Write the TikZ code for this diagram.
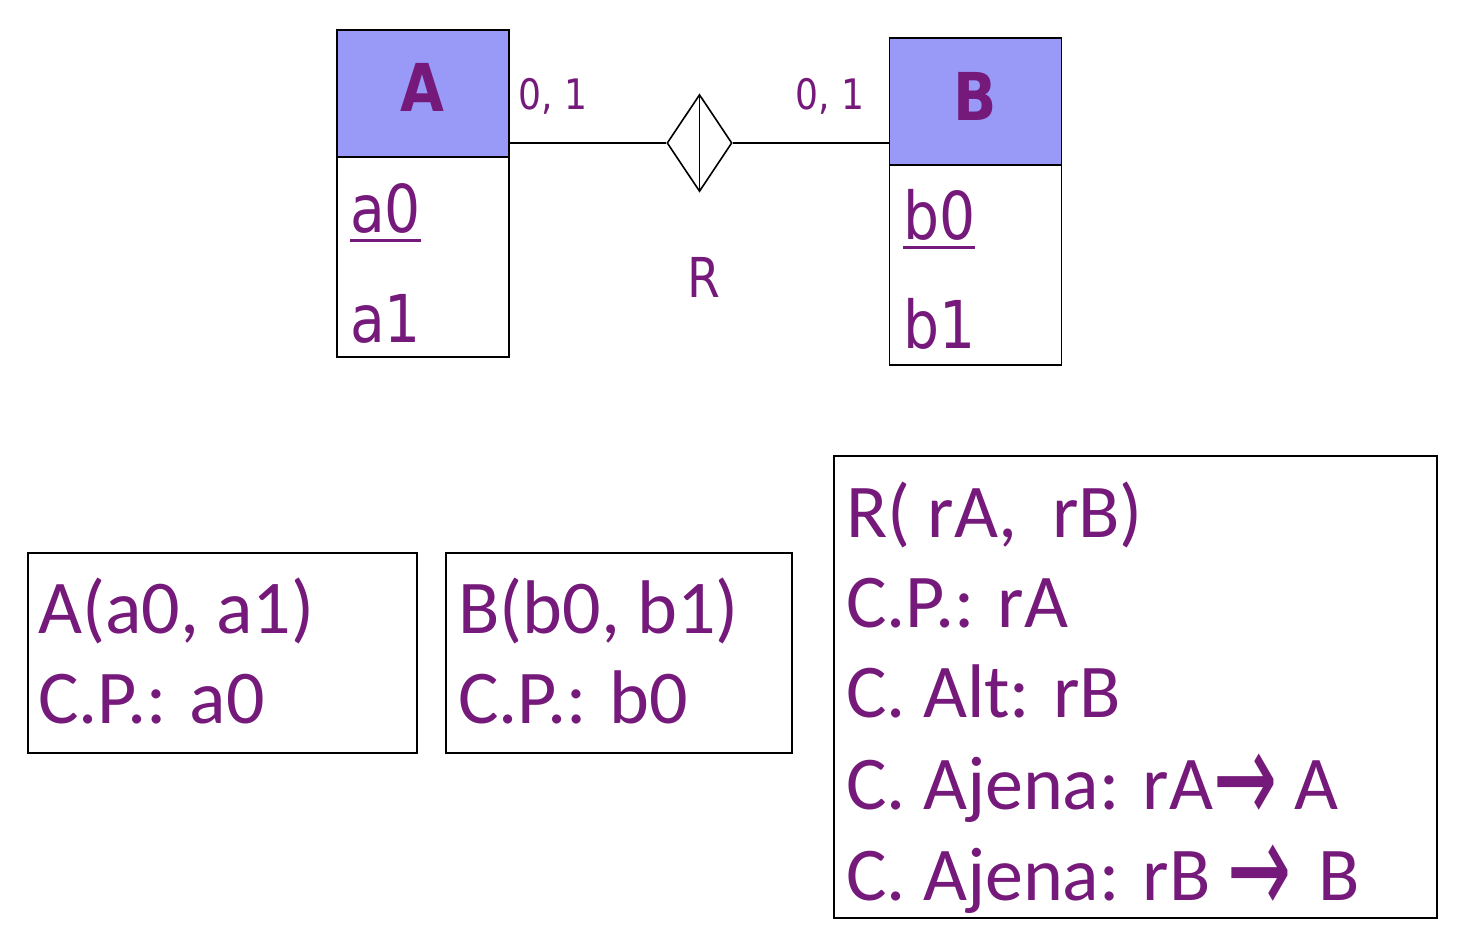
\documentclass[tikz,border=0pt]{standalone}
\usepackage{fontspec}
\usepackage{graphicx}
\setmainfont{Carlito}
\newfontfamily\tah[FakeStretch=0.86]{DejaVu Sans}
\newfontfamily\arrfont[FakeStretch=0.58]{DejaVu Sans}
\usetikzlibrary{shapes.geometric}
\definecolor{txtpurple}{HTML}{751A7A}
\definecolor{hdrblue}{HTML}{9999F8}
\newcommand{\myuline}[1]{\setbox0\hbox{#1}\rlap{\rule[-9.5pt]{\wd0}{2.5pt}}\box0}
\tikzset{
  hdr/.style={draw=black, line width=1.6pt, fill=hdrblue, minimum width=172pt, minimum height=127pt, inner sep=0pt},
  bodybox/.style={draw=black, line width=1.6pt, fill=white, minimum width=172pt, minimum height=200pt, inner sep=0pt},
  ent/.style={text=txtpurple, inner sep=0pt, anchor=base, font=\tah\bfseries\fontsize{66}{70}\selectfont},
  attr/.style={text=txtpurple, inner sep=0pt, anchor=base west, font=\tah\fontsize{66}{70}\selectfont},
  card/.style={text=txtpurple, inner sep=0pt, anchor=base west, font=\tah\fontsize{42}{46}\selectfont},
  relname/.style={text=txtpurple, inner sep=0pt, anchor=base, font=\tah\fontsize{55}{60}\selectfont},
  rel/.style={draw=black, line width=1.6pt, shape=diamond, minimum width=65pt, minimum height=97pt, inner sep=0pt},
  conn/.style={draw=black, line width=1.6pt},
  schbox/.style={draw=black, line width=1.6pt, inner sep=0pt},
  schtext/.style={text=txtpurple, inner sep=0pt, anchor=base west, font=\fontsize{76}{80}\selectfont}
}
\newcommand{\myarrow}{\smash{\raisebox{-14pt}{\arrfont\fontsize{132}{132}\selectfont →}}}
\begin{document}
\begin{tikzpicture}[x=1pt, y=-1pt]
\useasboundingbox (0,0) rectangle (1462,940);
% Entity A
\node[hdr] (hA) at (423,93.5) {};
\node[bodybox] (bA) at (423,257) {};
\node[ent] (lA) at (422,111) {A};
\node[attr] (a0) at (350,232) {\myuline{a0}};
\node[attr] (a1) at (350,342) {a1};
% Entity B
\node[hdr] (hB) at (975.5,101.5) {};
\node[bodybox] (bB) at (975.5,265) {};
\node[ent] (lB) at (975,120) {B};
\node[attr] (b0) at (903,239) {\myuline{b0}};
\node[attr] (b1) at (903,348) {b1};
% Relationship
\node[rel] (R) at (699.5,143) {};
\draw[conn] (R.north) -- (R.south);
\draw[conn] (R.west -| hA.east) -- (R.west);
\draw[conn] (R.east) -- (R.east -| hB.west);
\node[relname] (Rname) at (704,297) {R};
\node[card] (cA) at (518,109) {0, 1};
\node[card] (cB) at (795,109) {0, 1};
% Schema boxes
\node[schbox, minimum width=389pt, minimum height=200pt] (s1) at (222.5,653) {};
\node[schtext] (s1a) at (38,633) {A(a0, a1)};
\node[schtext] (s1b) at (38,723) {C.P.: a0};
\node[schbox, minimum width=346pt, minimum height=200pt] (s2) at (619,653) {};
\node[schtext] (s2a) at (458,633) {B(b0, b1)};
\node[schtext] (s2b) at (458,723) {C.P.: b0};
\node[schbox, minimum width=603pt, minimum height=462pt] (s3) at (1135.5,687) {};
\node[schtext] (s3a) at (846,537) {R( rA,\ \ rB)};
\node[schtext] (s3b) at (846,627) {C.P.: rA};
\node[schtext] (s3c) at (846,717) {C. Alt: rB};
\node[schtext] (s3d) at (846,809) {C. Ajena: rA\myarrow{} A};
\node[schtext] (s3e) at (846,900) {C. Ajena: rB \myarrow{}\hspace{10pt} B};
\end{tikzpicture}
\end{document}
